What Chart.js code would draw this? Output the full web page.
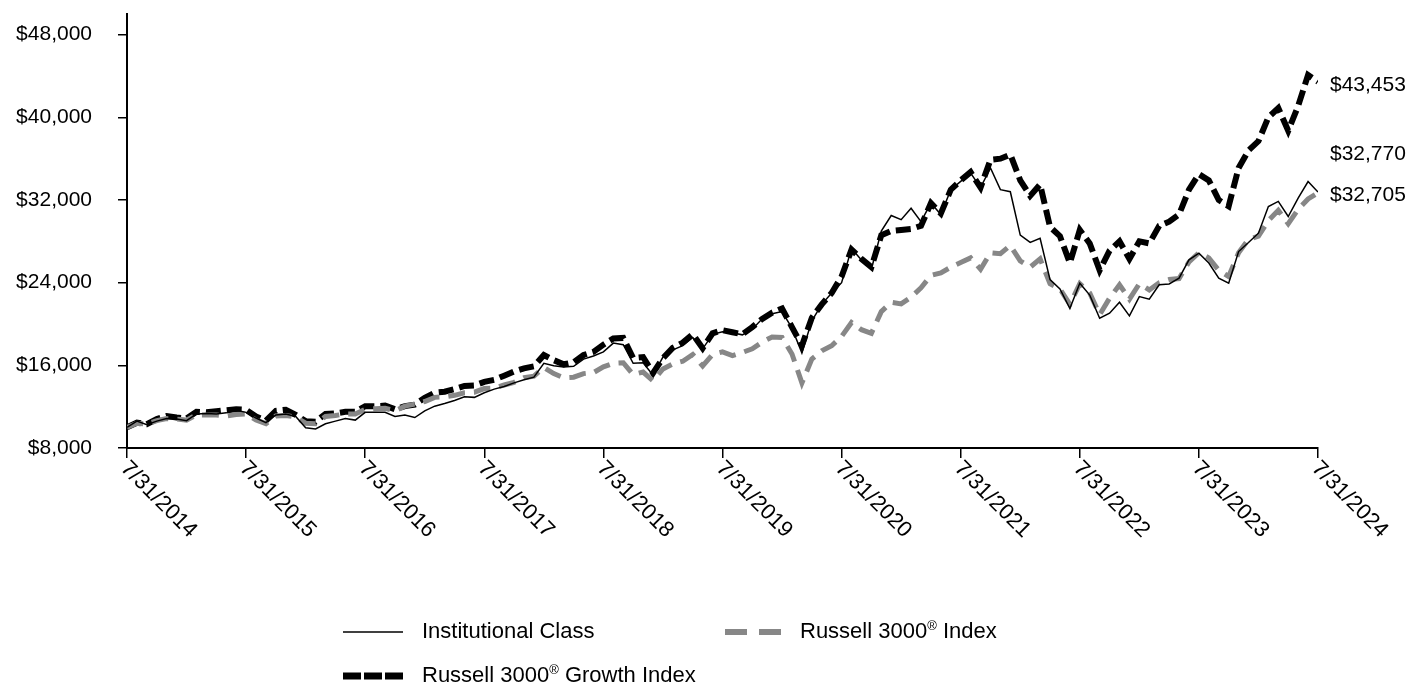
<!DOCTYPE html>
<html>
<head>
<meta charset="utf-8">
<script src="https://cdn.jsdelivr.net/npm/chart.js@4.4.1/dist/chart.umd.min.js"></script>
<style>
  html, body { margin: 0; padding: 0; background: #fff; }
  #wrap { width: 1410px; height: 684px; }
</style>
</head>
<body>
<div id="wrap"><canvas id="growthChart" width="1410" height="684"></canvas></div>
<script>
// month-end values, 7/31/2014 .. 7/31/2024 (121 points)
const tickLabels = ["7/31/2014", "7/31/2015", "7/31/2016", "7/31/2017", "7/31/2018", "7/31/2019",
  "7/31/2020", "7/31/2021", "7/31/2022", "7/31/2023", "7/31/2024"];

const yTicks = [8000, 16000, 24000, 32000, 40000, 48000];

const institutional = [
  10000, 10600, 10250, 10600, 10850, 10800, 10650, 11300, 11350, 11300, 11400, 11650,
  11450, 10900, 10450, 11200, 11300, 11050, 9950, 9850, 10350, 10600, 10850, 10700,
  11450, 11450, 11450, 11050, 11200, 10950, 11600, 12050, 12300, 12600, 12950, 12900,
  13350, 13700, 13950, 14300, 14600, 14850, 16200, 15950, 15850, 15900, 16600, 16900,
  17300, 18150, 18000, 16200, 16250, 15050, 16800, 17500, 17900, 18700, 17600, 19000,
  19250, 19150, 18950, 19500, 20500, 21000, 21200, 19600, 17200, 20300, 21900, 23000,
  24000, 27300, 26200, 25300, 29000, 30500, 30100, 31200, 29900, 31700, 30600, 33000,
  33800, 34600, 33200, 35100, 33000, 32800, 28600, 27900, 28300, 24300, 23400, 21500,
  23950, 22800, 20560, 21050, 22100, 20790, 22650, 22400, 23790, 23880, 24430, 26210,
  26860, 25900, 24430, 23950, 27010, 27880, 28790, 31370, 31860, 30400, 32180, 33790,
  32770
];

const russell3000 = [
  10000, 10400, 10300, 10650, 10850, 10800, 10700, 11200, 11200, 11200, 11100, 11250,
  11300, 10700, 10350, 11100, 11150, 11000, 10400, 10350, 11050, 11150, 11300, 11300,
  11750, 11800, 11850, 11600, 12050, 12250, 12500, 12900, 12950, 13100, 13350, 13400,
  13750, 13800, 14100, 14350, 14800, 14950, 15800, 15200, 14800, 14850, 15200, 15300,
  15850, 16200, 16250, 15100, 15350, 14500, 15650, 16150, 16400, 17050, 15950, 17050,
  17300, 16950, 17250, 17600, 18250, 18750, 18700, 17100, 14300, 16600, 17400, 17900,
  18800, 20150, 19450, 19100, 21200, 22100, 21950, 22600, 23500, 24700, 24950, 25500,
  25950, 26400, 25300, 26900, 26800, 27600, 26100, 25500, 26300, 23900, 23400, 21900,
  23900, 23000, 20900, 22500, 23800, 22400, 23900, 23300, 24000, 24300, 24400, 26000,
  26900, 26400, 25200, 24600, 26900, 28200, 28500, 30000, 31000, 29700, 31100, 32100,
  32705
];

const russell3000Growth = [
  10000, 10450, 10300, 10800, 11100, 10950, 10850, 11500, 11450, 11550, 11650, 11750,
  11700, 11050, 10650, 11600, 11700, 11200, 10600, 10550, 11300, 11350, 11500, 11500,
  12050, 12050, 12100, 11750, 12050, 12200, 12850, 13350, 13450, 13700, 14000, 14050,
  14400, 14600, 15000, 15400, 15700, 15900, 17000, 16500, 16100, 16300, 17000, 17300,
  18000, 18600, 18650, 16700, 16800, 15250, 16700, 17700, 18200, 19000, 17650, 19100,
  19400, 19200, 19000, 19700, 20500, 21100, 21500, 19700, 17900, 20600, 21900, 23000,
  24600, 27200, 26300, 25500, 28600, 29000, 29100, 29200, 29500, 31700, 30700, 33000,
  33900, 34700, 33200, 35900, 36000, 36400, 33900, 32400, 33500, 29400, 28500, 25900,
  29100, 27800, 25200, 27100, 28000, 26300, 28000, 27800, 29500, 29900, 30600, 33000,
  34500, 33900, 32000, 31400, 35100, 36800, 37700, 40000, 40900, 38700, 41100, 44100,
  43453
];

const endLabels = ["$43,453", "$32,770", "$32,705"];

const FONT = '"Liberation Sans", Arial, sans-serif';
const GRAY = "#878787";

const toXY = arr => arr.map((v, i) => ({ x: i, y: v }));
const money = v => "$" + v.toLocaleString("en-US");

// custom text: rotated date labels, end values, legend
const extras = {
  id: "extras",
  afterDraw(chart) {
    const ctx = chart.ctx;
    const xs = chart.scales.x;
    const ys = chart.scales.y;
    const area = chart.chartArea;
    ctx.save();
    ctx.fillStyle = "#000";
    ctx.font = "22px " + FONT;

    // rotated x labels
    tickLabels.forEach((t, k) => {
      const px = xs.getPixelForValue(k * 12);
      ctx.save();
      ctx.translate(px - 3, area.bottom + 17);
      ctx.rotate(Math.PI / 4);
      ctx.textAlign = "left";
      ctx.textBaseline = "middle";
      ctx.fillText(t, 0, 0);
      ctx.restore();
    });

    // end labels
    ctx.font = "21px " + FONT;
    ctx.textAlign = "left";
    ctx.textBaseline = "middle";
    const lx = area.right + 12;
    ctx.fillText(endLabels[0], lx, ys.getPixelForValue(43453) + 4);
    const low = ys.getPixelForValue(32705) + 2;
    ctx.fillText(endLabels[2], lx, low);
    ctx.fillText(endLabels[1], lx, low - 41);

    // legend
    const drawSup = (x, y, before, after) => {
      ctx.font = "22px " + FONT;
      ctx.fillText(before, x, y);
      let w = ctx.measureText(before).width;
      ctx.font = "13px " + FONT;
      ctx.fillText("\u00AE", x + w, y - 6);
      w += ctx.measureText("\u00AE").width;
      ctx.font = "22px " + FONT;
      ctx.fillText(after, x + w, y);
    };

    const r1 = 632, r2 = 676;
    ctx.lineCap = "butt";
    ctx.strokeStyle = "#000";
    ctx.lineWidth = 1.5;
    ctx.setLineDash([]);
    ctx.beginPath(); ctx.moveTo(343, r1); ctx.lineTo(403, r1); ctx.stroke();
    ctx.font = "22px " + FONT;
    ctx.fillText("Institutional Class", 422, r1);

    ctx.strokeStyle = GRAY;
    ctx.lineWidth = 6;
    ctx.setLineDash([22, 12]);
    ctx.beginPath(); ctx.moveTo(725, r1); ctx.lineTo(781, r1); ctx.stroke();
    drawSup(800, r1, "Russell 3000", " Index");

    ctx.strokeStyle = "#000";
    ctx.lineWidth = 7;
    ctx.setLineDash([18, 3]);
    ctx.beginPath(); ctx.moveTo(343, r2); ctx.lineTo(405, r2); ctx.stroke();
    drawSup(422, r2, "Russell 3000", " Growth Index");

    ctx.restore();
  }
};

new Chart(document.getElementById("growthChart"), {
  type: "line",
  data: {
    datasets: [
      {
        label: "Institutional Class",
        data: toXY(institutional),
        borderColor: "#000",
        borderWidth: 1.5,
        pointRadius: 0,
        tension: 0
      },
      {
        label: "Russell 3000® Index",
        data: toXY(russell3000),
        borderColor: GRAY,
        borderWidth: 5,
        borderDash: [17, 9],
        pointRadius: 0,
        tension: 0
      },
      {
        label: "Russell 3000® Growth Index",
        data: toXY(russell3000Growth),
        borderColor: "#000",
        borderWidth: 6,
        borderDash: [15, 6],
        pointRadius: 0,
        tension: 0
      }
    ]
  },
  options: {
    responsive: false,
    animation: false,
    layout: { padding: { top: 14, right: 92, left: 0, bottom: 0 } },
    plugins: {
      legend: { display: false },
      tooltip: { enabled: false }
    },
    scales: {
      x: {
        type: "linear",
        min: 0,
        max: 120,
        ticks: { display: false, stepSize: 12 },
        grid: { drawOnChartArea: false, drawTicks: true, tickLength: 10, color: "#000", lineWidth: 1.5 },
        border: { display: true, color: "#000", width: 2 },
        afterFit: s => { s.height = 236; s.paddingLeft = 0; s.paddingRight = 0; }
      },
      y: {
        min: 8000,
        max: 50000,
        afterBuildTicks: s => { s.ticks = yTicks.map(v => ({ value: v })); },
        ticks: {
          padding: 26,
          color: "#000",
          font: { family: FONT, size: 21 },
          callback: v => money(v)
        },
        grid: { drawOnChartArea: false, drawTicks: true, tickLength: 9, color: "#000", lineWidth: 1.5 },
        border: { display: true, color: "#000", width: 2 },
        afterFit: s => { s.width = 127; s.paddingTop = 0; s.paddingBottom = 0; }
      }
    }
  },
  plugins: [extras]
});
</script>
</body>
</html>
